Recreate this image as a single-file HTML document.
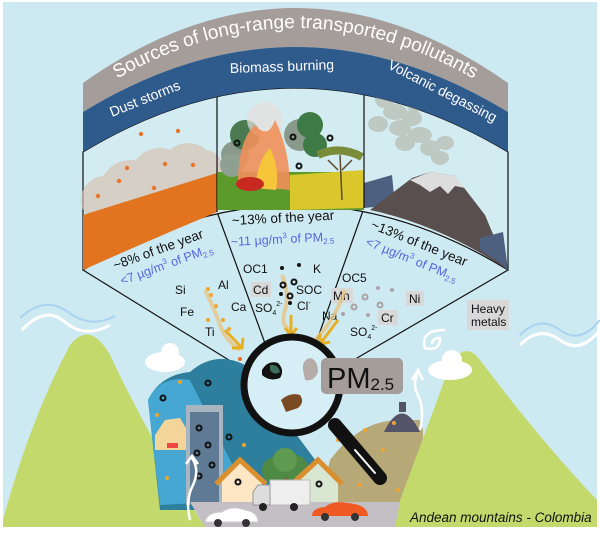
<!DOCTYPE html>
<html><head><meta charset="utf-8"><style>
body{margin:0;background:#fff}
svg{display:block}
text{font-family:"Liberation Sans",sans-serif}
</style></head><body>
<svg width="600" height="537" viewBox="0 0 600 537" xmlns="http://www.w3.org/2000/svg">
<rect x="0" y="0" width="600" height="537" fill="#fff"/>
<rect x="3" y="2" width="594" height="525" fill="#cde9f2"/>
<!-- wavy lines -->
<path d="M22,330 Q45,305 65,322 T110,325" stroke="#fff" stroke-width="3" fill="none"/>
<path d="M20,318 Q45,295 68,312 T115,316" stroke="#a9d3ef" stroke-width="2" fill="none"/>
<path d="M520,345 Q540,325 560,340 T600,330" stroke="#fff" stroke-width="3" fill="none"/>
<path d="M520,335 Q540,315 560,330 T600,320" stroke="#a9d3ef" stroke-width="2" fill="none"/>
<!-- sector fan lines -->
<g stroke="#111" stroke-width="1.2">
<line x1="83" y1="270" x2="245" y2="370"/>
<line x1="217" y1="212" x2="266" y2="346"/>
<line x1="364" y1="208" x2="316" y2="343"/>
<line x1="508" y1="270" x2="345" y2="365"/>
</g>
<!-- panels -->
<path d="M83,152 Q295,24 508,152 L508,270 Q295,140 83,270 Z" fill="#d3ecf2" stroke="#111" stroke-width="1.2"/>
<!-- left panel dust -->
<g>
<g fill="#d8c4b4" opacity=".7">
<circle cx="105" cy="200" r="24"/><circle cx="130" cy="190" r="30"/><circle cx="160" cy="178" r="30"/><circle cx="188" cy="170" r="27"/><circle cx="205" cy="168" r="18"/>
</g>
<path d="M83,215 L217,173 L217,212 Q150,240 83,270 Z" fill="#e3741f"/>
<g fill="#e8742a"><circle cx="141" cy="134" r="2.2"/><circle cx="178" cy="131" r="2.2"/><circle cx="127" cy="168" r="2.2"/><circle cx="165" cy="164" r="2.2"/><circle cx="193" cy="165" r="2.2"/><circle cx="119" cy="181" r="2.2"/><circle cx="154" cy="188" r="2.2"/><circle cx="98" cy="196" r="2.2"/></g>
</g>
<!-- middle panel biomass -->
<g>
<rect x="218" y="172" width="146" height="38" fill="#5c9a2c"/>
<path d="M290,175 L364,170 L364,208 L290,210 Z" fill="#d9c72c"/>
<circle cx="235" cy="155" r="14" fill="#8a9a8a"/>
<circle cx="245" cy="135" r="15" fill="#4c7a50"/>
<circle cx="232" cy="165" r="12" fill="#90a090"/>
<circle cx="300" cy="135" r="16" fill="#8a9a8a"/>
<circle cx="310" cy="125" r="13" fill="#3e7a46"/>
<circle cx="315" cy="145" r="12" fill="#3e7a46"/>
<circle cx="265" cy="120" r="18" fill="#e6e0dc" opacity=".7"/>
<path d="M238,185 Q238,140 255,125 Q268,140 275,120 Q290,150 290,190 Z" fill="#f0905a" opacity=".9"/>
<path d="M255,188 Q258,160 270,148 Q280,168 276,190 Z" fill="#f7c53a"/>
<ellipse cx="250" cy="184" rx="14" ry="7" fill="#c82a20"/>
<path d="M318,155 Q340,145 362,157" stroke="#7a8c3a" stroke-width="8" fill="none"/>
<path d="M340,155 L342,200 M338,170 L328,160 M342,170 L352,160" stroke="#5a4a2a" stroke-width="1.5"/>
<g fill="none" stroke="#111" stroke-width="2"><circle cx="237" cy="143" r="2.5"/><circle cx="293" cy="137" r="2.5"/><circle cx="330" cy="138" r="2.5"/><circle cx="299" cy="166" r="2.5"/></g>
</g>
<!-- right panel volcano -->
<g>
<g fill="#a69f8e" opacity=".45">
<ellipse cx="385" cy="100" rx="10" ry="8"/><ellipse cx="395" cy="112" rx="12" ry="8"/><ellipse cx="378" cy="124" rx="10" ry="8"/><ellipse cx="400" cy="128" rx="11" ry="8"/><ellipse cx="412" cy="118" rx="10" ry="8"/><ellipse cx="420" cy="135" rx="12" ry="8"/><ellipse cx="405" cy="143" rx="10" ry="8"/><ellipse cx="430" cy="148" rx="10" ry="8"/><ellipse cx="440" cy="158" rx="9" ry="7"/><ellipse cx="445" cy="143" rx="9" ry="7"/><ellipse cx="415" cy="105" rx="8" ry="7"/>
</g>
<path d="M364,183 L392,175 L395,205 L364,208 Z" fill="#4d6080"/>
<path d="M370,210 L412,178 L430,172 L455,176 L485,215 L508,270 Q440,225 370,210 Z" fill="#5a4f4f"/>
<path d="M410,180 L430,172 L455,176 L465,188 L455,186 L448,194 L440,186 L430,192 L420,185 Z" fill="#ddd"/>
<path d="M480,238 L503,232 L508,270 Q495,258 480,250 Z" fill="#4d6080"/>
</g>
<!-- dividers -->
<g stroke="#111" stroke-width="1.2"><line x1="217" y1="95" x2="217" y2="212"/><line x1="364" y1="95" x2="364" y2="208"/></g>
<!-- bands -->
<path d="M83,112 L83,83 Q295,-67 508,83 L508,112 Q295,-18 83,112 Z" fill="#a59d9a"/>
<path d="M83,152 L83,112 Q295,-18 508,112 L508,152 Q295,24 83,152 Z" fill="#2f5a8c"/>
<path id="tp" d="M83,100 Q295,-44 508,100" fill="none"/>
<text font-size="19" fill="#fff"><textPath href="#tp" startOffset="50%" text-anchor="middle">Sources of long-range transported pollutants</textPath></text>
<text x="112" y="117" font-size="14" fill="#fff" transform="rotate(-22 112 117)">Dust storms</text>
<text x="230" y="73" font-size="14" fill="#fff" transform="rotate(-2 230 73)">Biomass  burning</text>
<text x="387" y="68" font-size="14" fill="#fff" transform="rotate(27 387 68)">Volcanic degassing</text>
<!-- stats -->
<text x="115" y="270" font-size="13.5" fill="#111" transform="rotate(-20 115 270)">~8% of the year</text>
<text x="122" y="285" font-size="12.5" fill="#5566e0" transform="rotate(-20 122 285)">&lt;7 µg/m<tspan font-size="8" dy="-5">3</tspan><tspan dy="5"> of PM</tspan><tspan font-size="8" dy="3">2.5</tspan></text>
<text x="232" y="225" font-size="13.5" fill="#111" transform="rotate(-3 232 225)">~13% of the year</text>
<text x="231" y="246" font-size="12.5" fill="#5566e0" transform="rotate(-3 231 246)">~11 µg/m<tspan font-size="8" dy="-5">3</tspan><tspan dy="5"> of PM</tspan><tspan font-size="8" dy="3">2.5</tspan></text>
<text x="370" y="228" font-size="13.5" fill="#111" transform="rotate(22 370 228)">~13% of the year</text>
<text x="365" y="245" font-size="12.5" fill="#5566e0" transform="rotate(22 365 245)">&lt;7 µg/m<tspan font-size="8" dy="-5">3</tspan><tspan dy="5"> of PM</tspan><tspan font-size="8" dy="3">2.5</tspan></text>
<!-- element labels -->
<g font-size="12" fill="#111">
<text x="175" y="294">Si</text><text x="218" y="289">Al</text><text x="180" y="316">Fe</text><text x="231" y="311">Ca</text><text x="205" y="336">Ti</text>
<text x="243" y="273">OC1</text><text x="313" y="273">K</text>
<rect x="251" y="282" width="20" height="15" fill="#d8d8d8"/><text x="253" y="294">Cd</text>
<text x="296" y="294">SOC</text><text x="255" y="312">SO<tspan font-size="7" dy="3">4</tspan><tspan font-size="7" dy="-9">2-</tspan></text>
<text x="297" y="310">Cl<tspan font-size="7" dy="-5">-</tspan></text>
<text x="342" y="282">OC5</text>
<rect x="331" y="288" width="22" height="15" fill="#d8d8d8"/><text x="333" y="300">Mn</text>
<text x="322" y="320">Na</text>
<rect x="378" y="310" width="20" height="15" fill="#d8d8d8"/><text x="381" y="322">Cr</text>
<rect x="406" y="291" width="18" height="15" fill="#d8d8d8"/><text x="409" y="303">Ni</text>
<text x="350" y="336">SO<tspan font-size="7" dy="3">4</tspan><tspan font-size="7" dy="-9">2-</tspan></text>
<rect x="467" y="300" width="42" height="30" fill="#d8d8d8"/><text x="471" y="313">Heavy</text><text x="471" y="326">metals</text>
</g>
<!-- particle trails and arrows -->
<g fill="none" stroke="#e8c585" stroke-width="4" opacity=".8">
<path d="M205,290 Q215,310 220,325 T240,350"/><path d="M282,275 Q290,295 285,310 T290,330"/><path d="M345,290 Q335,320 315,340"/>
</g>
<g stroke="#e7b020" stroke-width="3" fill="none">
<path d="M225,330 L242,348 M232,348 L242,348 L243,338"/>
<path d="M291,315 L291,335 M285,328 L291,335 L297,328"/>
<path d="M338,320 L320,344 M320,334 L320,344 L330,342"/>
</g>
<g fill="#f0a530"><circle cx="208" cy="289" r="2"/><circle cx="211" cy="295" r="2"/><circle cx="216" cy="306" r="2"/><circle cx="223" cy="320" r="2"/><circle cx="208" cy="320" r="2"/><circle cx="229" cy="329" r="2"/><circle cx="240" cy="359" r="2" fill="#e86a20"/></g>
<g fill="#111"><circle cx="282" cy="268" r="2"/><circle cx="299" cy="265" r="2"/><circle cx="281" cy="294" r="2"/><circle cx="290" cy="303" r="2"/></g>
<g fill="none" stroke="#111" stroke-width="2"><circle cx="294" cy="282" r="2.5"/><circle cx="283" cy="285" r="2.5"/><circle cx="290" cy="296" r="2.5"/></g>
<g fill="#a9a3a3"><circle cx="378" cy="288" r="2"/><circle cx="392" cy="290" r="2"/><circle cx="368" cy="315" r="2"/><circle cx="343" cy="314" r="2"/></g>
<g fill="none" stroke="#a9a3a3" stroke-width="2"><circle cx="365" cy="297" r="2.5"/><circle cx="380" cy="305" r="2.5"/><circle cx="354" cy="307" r="2.5"/></g>
<!-- mountains -->
<path d="M3,520 Q30,420 70,345 Q90,320 110,355 Q150,440 205,527 L3,527 Z" fill="#c4d96b"/>
<!-- city hills -->
<path d="M148,400 Q160,375 190,372 Q215,350 245,365 L330,480 L330,510 L160,510 Z" fill="#2e7f9d"/>
<path d="M148,400 Q160,375 190,380 L250,500 L160,505 Z" fill="#46a8d2"/>
<path d="M320,505 L330,460 Q360,420 400,420 L420,420 L420,505 Z" fill="#b7a877"/>
<rect x="383" y="428" width="40" height="77" fill="#b7a877"/>
<path d="M384,432 Q402,395 420,432 Z" fill="#545468"/>
<rect x="399" y="402" width="7" height="10" fill="#545468"/>
<!-- right mountain -->
<path d="M390,527 Q430,420 450,365 Q465,340 480,360 Q540,440 597,500 L597,527 Z" fill="#c4d96b"/>
<!-- clouds -->
<g fill="#fff"><ellipse cx="165" cy="362" rx="20" ry="10"/><circle cx="170" cy="352" r="9"/><ellipse cx="450" cy="370" rx="22" ry="10"/><circle cx="452" cy="360" r="10"/></g>
<path d="M445,330 Q420,330 425,348 Q440,352 440,338 Q432,338 432,344" stroke="#fff" stroke-width="2.5" fill="none"/>
<!-- sand pile -->
<path d="M155,435 L165,420 L180,418 L190,435 L190,450 L155,450 Z" fill="#f3d59a"/>
<rect x="167" y="443" width="11" height="5" fill="#e44"/>
<!-- building -->
<rect x="186" y="405" width="37" height="100" fill="#a8b6c2"/>
<rect x="190" y="412" width="29" height="93" fill="#5f7a94"/>
<g fill="none" stroke="#111" stroke-width="2"><circle cx="199" cy="428" r="2.5"/><circle cx="208" cy="445" r="2.5"/><circle cx="197" cy="453" r="2.5"/><circle cx="212" cy="465" r="2.5"/><circle cx="199" cy="476" r="2.5"/><circle cx="229" cy="437" r="2.5"/><circle cx="163" cy="398" r="2.5"/><circle cx="208" cy="383" r="2.5"/><circle cx="232" cy="480" r="2.5"/><circle cx="250" cy="483" r="2.5"/></g>
<g fill="#f0a530"><circle cx="180" cy="382" r="2"/><circle cx="157" cy="415" r="2"/><circle cx="167" cy="478" r="2"/><circle cx="244" cy="445" r="2"/><circle cx="394" cy="423" r="2"/><circle cx="383" cy="450" r="2"/><circle cx="398" cy="490" r="2"/><circle cx="360" cy="485" r="2"/><circle cx="365" cy="430" r="2"/><circle cx="338" cy="440" r="2"/></g>
<!-- tree -->
<rect x="280" y="475" width="10" height="25" fill="#8a5a34"/>
<circle cx="275" cy="470" r="13" fill="#4f8a45"/><circle cx="295" cy="468" r="13" fill="#4f8a45"/><circle cx="285" cy="460" r="12" fill="#5e9a50"/>
<!-- houses -->
<path d="M222,480 L240,463 L262,480 L262,505 L222,505 Z" fill="#fde6c4"/>
<path d="M216,484 L240,460 L266,484" stroke="#d98f2e" stroke-width="5" fill="none"/>
<path d="M298,480 L318,463 L338,480 L338,505 L298,505 Z" fill="#d9e6d2"/>
<path d="M292,484 L318,460 L342,484" stroke="#d98f2e" stroke-width="5" fill="none"/>
<g fill="none" stroke="#111" stroke-width="2"><circle cx="238" cy="482" r="2.5"/><circle cx="319" cy="484" r="2.5"/></g>
<!-- road -->
<path d="M190,502 L400,502 L395,527 L205,527 Z" fill="#c3bfc4"/>
<!-- truck -->
<rect x="270" y="480" width="40" height="25" fill="#eee" stroke="#bbb"/>
<path d="M253,492 L258,485 L270,485 L270,505 L253,505 Z" fill="#ddd" stroke="#999"/>
<circle cx="263" cy="507" r="4" fill="#222"/><circle cx="294" cy="507" r="4" fill="#222"/>
<!-- cars -->
<path d="M205,522 Q207,512 222,512 Q232,505 245,510 Q258,512 258,522 Z" fill="#fff" stroke="#ccc"/>
<circle cx="218" cy="523" r="4" fill="#333"/><circle cx="246" cy="523" r="4" fill="#333"/>
<path d="M312,516 Q312,508 325,507 Q333,500 348,503 Q368,505 368,516 Z" fill="#ee5a22"/>
<circle cx="325" cy="517" r="4" fill="#333"/><circle cx="355" cy="517" r="4" fill="#333"/>
<!-- white arrows -->
<path d="M190,520 Q185,500 193,485 Q200,470 192,458 M186,464 L192,456 L198,464" stroke="#fff" stroke-width="2.5" fill="none"/>
<path d="M420,430 Q425,410 418,395 Q412,385 418,372 M412,380 L418,370 L423,380" stroke="#fff" stroke-width="2.5" fill="none"/>
<!-- magnifier -->
<line x1="335" y1="425" x2="380" y2="478" stroke="#111" stroke-width="14" stroke-linecap="round"/>
<line x1="355" y1="450" x2="375" y2="473" stroke="#fff" stroke-width="2" stroke-linecap="round"/>
<circle cx="292" cy="385" r="48" fill="#d6eef5" stroke="#111" stroke-width="7"/>
<path d="M262,370 Q268,360 278,363 Q285,370 280,378 Q270,382 262,375 Z" fill="#111"/>
<path d="M270,365 Q278,364 280,372 Q274,376 270,370 Z" fill="#3c6e5a"/>
<path d="M281,400 Q290,392 300,395 Q305,402 298,408 L286,412 Z" fill="#7a4a22"/>
<path d="M303,370 Q302,360 310,358 Q318,360 318,372 Q314,382 305,380 Z" fill="#b5aca8"/>
<rect x="321" y="358" width="82" height="36" rx="5" fill="#a59d9a"/>
<text x="327" y="388" font-size="29" fill="#111">PM<tspan font-size="17" dy="2">2.5</tspan></text>
<text x="410" y="522" font-size="13.5" font-style="italic" fill="#111">Andean mountains - Colombia</text>
</svg>
</body></html>
